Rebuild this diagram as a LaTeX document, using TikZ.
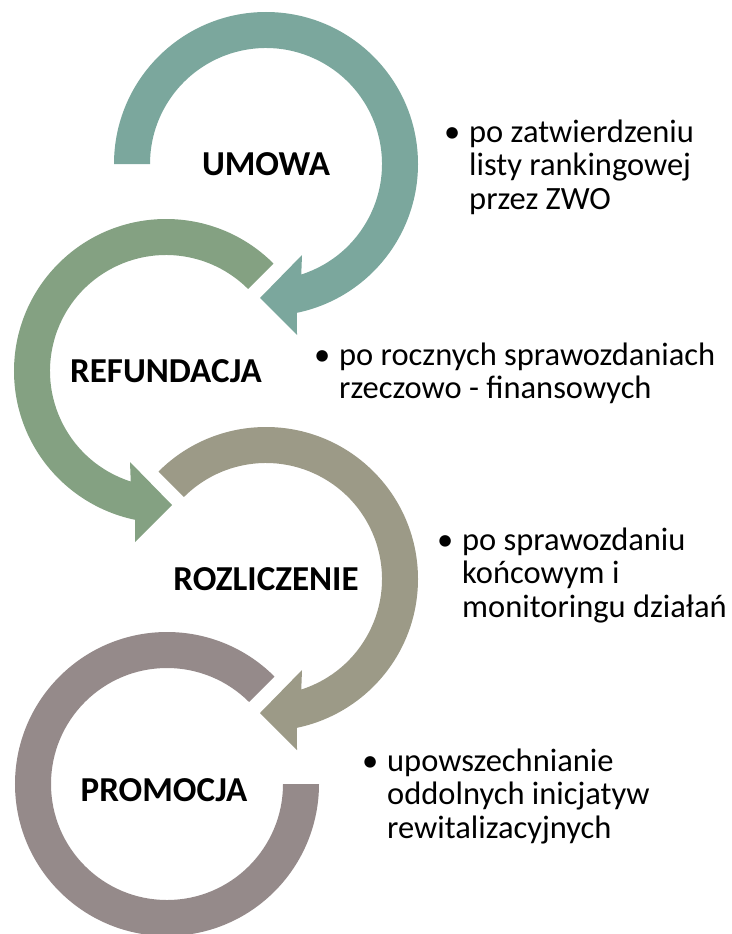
\documentclass[tikz,border=0pt]{standalone}
\usepackage{fontspec}
\setmainfont{Carlito}

\definecolor{umowacol}{RGB}{123,167,157}
\definecolor{refundcol}{RGB}{132,161,130}
\definecolor{rozlcol}{RGB}{156,154,135}
\definecolor{promocol}{RGB}{149,138,138}

\tikzset{
  stagename/.style = {font=\fontsize{35}{40}\selectfont\bfseries, inner sep=0pt},
  desc/.style      = {anchor=base west, inner sep=0pt, align=left,
                      font=\fontsize{32.5}{33.5}\selectfont}
}

\newcommand{\bulletlines}[1]{%
  \begin{tabular}[t]{@{}l@{}}\llap{\textbullet\hspace{9pt}}#1\end{tabular}}

\begin{document}
\begin{tikzpicture}[x=1pt, y=1pt]
\useasboundingbox (0,0) rectangle (731,-934);

% UMOWA
\begin{scope}[shift={(266,-164)}]
  \fill[umowacol] (180:152pt) arc[start angle=180, end angle=-78.25, radius=152pt]
    -- (31,-171) -- (-6,-134) -- (36,-91) -- (-72.3:116pt)
    arc[start angle=-72.3, end angle=180, radius=116pt] -- cycle;
  \node[stagename] (umowa) at (0,0) {UMOWA};
\end{scope}

% REFUNDACJA
\begin{scope}[shift={(166,-371)}, xscale=-1]
  \fill[refundcol] (135:152pt) arc[start angle=135, end angle=-78.25, radius=152pt]
    -- (31,-171) -- (-6,-134) -- (36,-91) -- (-72.3:116pt)
    arc[start angle=-72.3, end angle=135, radius=116pt] -- cycle;
  \node[stagename] (refundacja) at (0,0) {REFUNDACJA};
\end{scope}

% ROZLICZENIE
\begin{scope}[shift={(266,-579)}]
  \fill[rozlcol] (135:152pt) arc[start angle=135, end angle=-78.25, radius=152pt]
    -- (31,-171) -- (-6,-134) -- (36,-91) -- (-72.3:116pt)
    arc[start angle=-72.3, end angle=135, radius=116pt] -- cycle;
  \node[stagename] (rozliczenie) at (0,0) {ROZLICZENIE};
\end{scope}

% PROMOCJA
\begin{scope}[shift={(167,-784)}, xscale=-1]
  \fill[promocol] (135:152pt) arc[start angle=135, end angle=-180, radius=152pt]
    -- (-180:116pt) arc[start angle=-180, end angle=135, radius=116pt] -- cycle;
  \node[stagename] (promocja) at (3,-6) {PROMOCJA};
\end{scope}

% descriptions
\node[desc] (umowatxt) at (469,-142)
  {\bulletlines{po zatwierdzeniu\\ listy rankingowej\\ przez ZWO}};
\node[desc] (refundtxt) at (339,-365)
  {\bulletlines{po rocznych sprawozdaniach\\ rzeczowo - finansowych}};
\node[desc] (rozltxt) at (462,-550)
  {\bulletlines{po sprawozdaniu\\ końcowym i\\ monitoringu działań}};
\node[desc] (promotxt) at (387,-771)
  {\bulletlines{upowszechnianie\\ oddolnych inicjatyw\\ rewitalizacyjnych}};
\end{tikzpicture}
\end{document}
